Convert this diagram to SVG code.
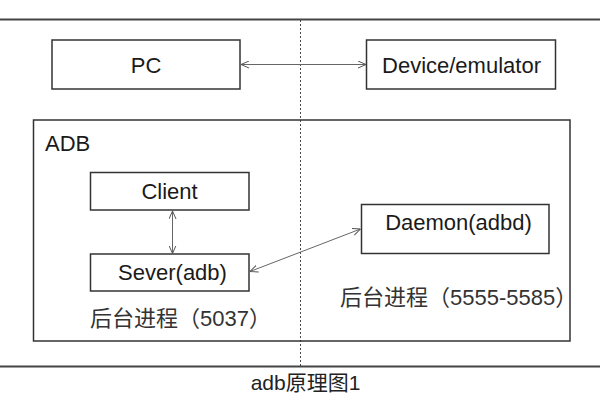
<svg xmlns="http://www.w3.org/2000/svg" width="600" height="400" viewBox="0 0 600 400">
<style>
.box{fill:#fff;stroke:#333;stroke-width:1.5}
.lbl{font-family:"Liberation Sans","Noto Sans CJK SC",Arial,sans-serif;font-size:22px;fill:#1a1a1a}
.cn{font-family:"Liberation Sans","Noto Sans CJK SC",sans-serif;font-size:22px;fill:#333}
.conn{stroke:#666;stroke-width:1;fill:none}
.rule{stroke:#444;stroke-width:2}
</style>
<defs>
<marker id="ah" viewBox="0 0 8 8" refX="8" refY="4" markerWidth="8" markerHeight="8" markerUnits="userSpaceOnUse" orient="auto-start-reverse">
<path d="M0,0.5 L8,4 L0,7.5" fill="none" stroke="#555" stroke-width="1"/>
</marker>
</defs>
<rect width="600" height="400" fill="#fff"/>
<g id="frame">
<line class="rule" x1="0" y1="19.5" x2="600" y2="19.5"/>
<line class="rule" x1="0" y1="366.5" x2="600" y2="366.5"/>
<line x1="300.5" y1="20" x2="300.5" y2="366" stroke="#444" stroke-width="1" stroke-dasharray="2,2"/>
</g>
<g id="adb">
<rect class="box" x="33.5" y="120" width="536.5" height="221" style="fill:none"/>
<text class="lbl" x="45" y="150.5">ADB</text>
</g>
<g id="pc">
<rect class="box" x="52" y="40" width="188" height="49"/>
<text class="lbl" x="146" y="72.5" text-anchor="middle">PC</text>
</g>
<g id="device">
<rect class="box" x="366.5" y="40" width="189" height="49"/>
<text class="lbl" x="461.5" y="72.5" text-anchor="middle">Device/emulator</text>
</g>
<g id="client">
<rect class="box" x="90.5" y="172.5" width="158.5" height="37.5"/>
<text class="lbl" x="169.5" y="198.5" text-anchor="middle">Client</text>
</g>
<g id="server">
<rect class="box" x="90.5" y="254" width="158.5" height="37"/>
<text class="lbl" x="172.5" y="280" text-anchor="middle">Sever(adb)</text>
</g>
<g id="daemon">
<rect class="box" x="361.5" y="204.5" width="187.5" height="49"/>
<text class="lbl" x="458.5" y="230" text-anchor="middle">Daemon(adbd)</text>
</g>
<g id="labels">
<text class="cn" x="90" y="326">后台进程（5037）</text>
<text class="cn" x="340" y="305">后台进程（5555-5585）</text>
<text class="cn" x="305.5" y="390" text-anchor="middle" style="font-size:21px;fill:#222">adb原理图1</text>
</g>
<g id="connectors">
<line class="conn" x1="241" y1="64.5" x2="366" y2="64.5" marker-start="url(#ah)" marker-end="url(#ah)"/>
<line class="conn" x1="172.5" y1="211" x2="172.5" y2="253.5" marker-start="url(#ah)" marker-end="url(#ah)"/>
<line class="conn" x1="250" y1="271.5" x2="360.5" y2="229" marker-start="url(#ah)" marker-end="url(#ah)"/>
</g>
</svg>
